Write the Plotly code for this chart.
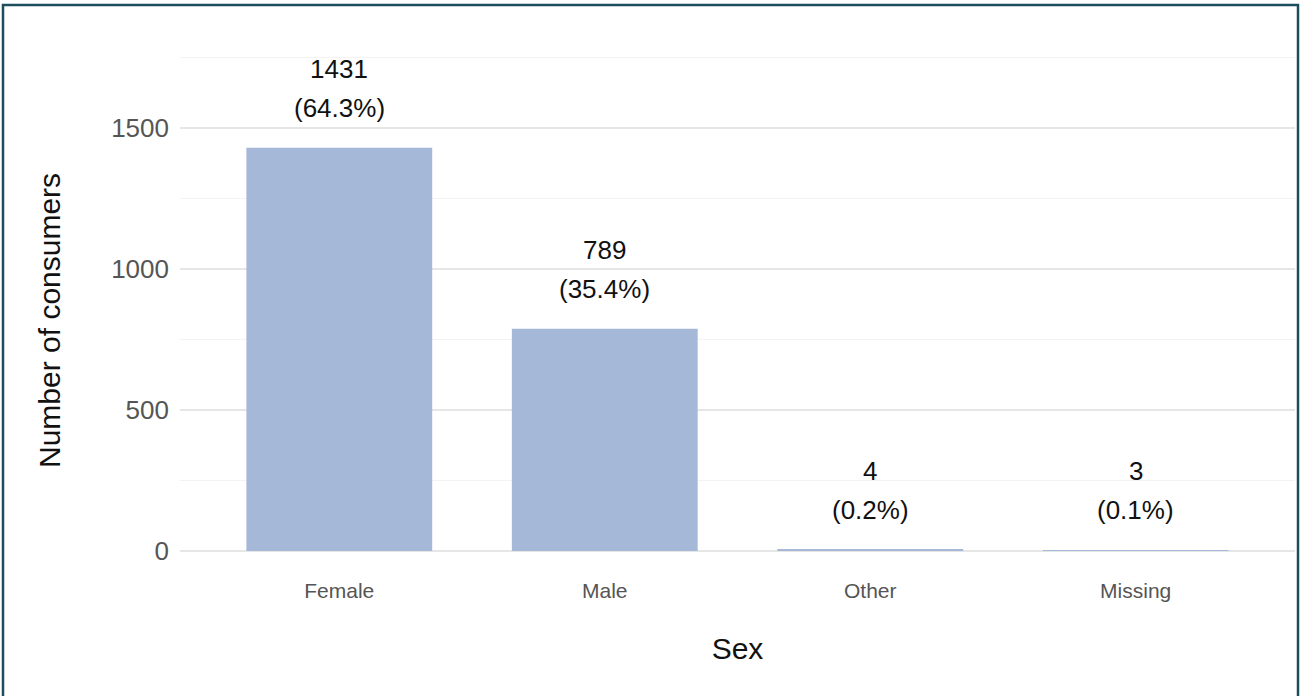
import plotly.graph_objects as go

categories = ["Female", "Male", "Other", "Missing"]
counts = [1431, 789, 4, 3]
percents = ["64.3%", "35.4%", "0.2%", "0.1%"]
y_ticks = [0, 500, 1000, 1500]

W, H = 1301, 696
ML, MR, MT, MB = 180, 6, 55, 145
pw, ph = W - ML - MR, H - MT - MB

fig = go.Figure()
fig.add_trace(go.Bar(
    x=categories, y=counts,
    marker=dict(color="rgb(166,184,216)", line=dict(width=0)),
    hoverinfo="x+y",
))

for c, v, p in zip(categories, counts, percents):
    fig.add_annotation(x=c, y=v, text=str(v), showarrow=False, yanchor="middle",
                       yshift=79, font=dict(size=26, color="#111"))
    fig.add_annotation(x=c, y=v, text=f"({p})", showarrow=False, yanchor="middle",
                       yshift=40, font=dict(size=26, color="#111"))


def px_to_paper_x(px):
    return (px - ML) / pw


def px_to_paper_y(py):
    return (H - MB - py) / ph


# y-axis title
fig.add_annotation(xref="paper", yref="paper", x=px_to_paper_x(49), y=px_to_paper_y(321),
                   text="Number of consumers", textangle=-90, showarrow=False,
                   xanchor="center", yanchor="middle", font=dict(size=30, color="#111"))

# outer border
fig.add_shape(type="rect", xref="paper", yref="paper",
              x0=px_to_paper_x(3), x1=px_to_paper_x(1298),
              y0=px_to_paper_y(700), y1=px_to_paper_y(5),
              line=dict(color="#1d4e5e", width=2.5), fillcolor="rgba(0,0,0,0)", layer="above")

fig.update_layout(
    width=W, height=H,
    margin=dict(l=ML, r=MR, t=MT, b=MB),
    paper_bgcolor="white", plot_bgcolor="white",
    font=dict(family="Liberation Sans, Arial, sans-serif"),
    bargap=0.3,
    showlegend=False,
    xaxis=dict(
        range=[-0.6, 3.6],
        showgrid=False, showline=False, zeroline=False,
        tickfont=dict(size=21, color="#555"),
        ticklabelstandoff=25,
        title=dict(text="Sex", font=dict(size=30, color="#111"), standoff=36),
    ),
    yaxis=dict(
        range=[0, 1760],
        tickvals=y_ticks,
        showgrid=True, gridcolor="#e6e6e6", gridwidth=1.5,
        zeroline=True, zerolinecolor="#e6e6e6", zerolinewidth=1.5,
        minor=dict(dtick=250, showgrid=True, gridcolor="#f3f3f3", gridwidth=1),
        tickfont=dict(size=26, color="#555"),
        ticklabelstandoff=10,
    ),
)

fig.write_html("out.html")
